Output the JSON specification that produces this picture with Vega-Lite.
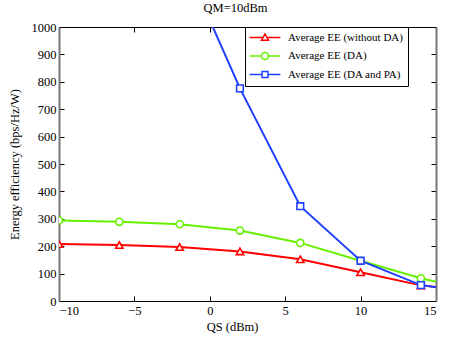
{
  "$schema": "https://vega.github.io/schema/vega-lite/v6.json",
  "autosize": {"type": "none"},
  "width": 377,
  "height": 274,
  "padding": {"left": 59, "top": 27, "right": 16, "bottom": 39},
  "background": "white",
  "title": {"text": "QM=10dBm", "font": "Liberation Serif", "fontSize": 12.5, "fontWeight": "normal", "color": "black", "offset": 7, "dx": -12},
  "config": {
    "view": {"stroke": null},
    "axis": {
      "labelFont": "Liberation Serif", "labelFontSize": 12.5, "labelColor": "black",
      "titleFont": "Liberation Serif", "titleFontSize": 12.5, "titleFontWeight": "normal", "titleColor": "black",
      "grid": false, "domainColor": "black", "tickColor": "black", "tickSize": -5, "labelPadding": 8
    },
    "legend": {"title": null, "orient": "none", "legendX": 186, "legendY": 0, "strokeColor": "black", "fillColor": "white", "padding": 5,
               "labelFont": "Liberation Serif", "labelFontSize": 11, "labelColor": "black", "symbolSize": 49, "symbolOffset": 9.5, "labelOffset": 17.5, "rowPadding": 5.5, "cornerRadius": 0}
  },
  "data": {"values": [
    {"series": "Average EE (without DA)", "x": -10, "y": 208},
    {"series": "Average EE (without DA)", "x": -6, "y": 204},
    {"series": "Average EE (without DA)", "x": -2, "y": 197},
    {"series": "Average EE (without DA)", "x": 2, "y": 181},
    {"series": "Average EE (without DA)", "x": 6, "y": 152},
    {"series": "Average EE (without DA)", "x": 10, "y": 105},
    {"series": "Average EE (without DA)", "x": 14, "y": 57},
    {"series": "Average EE (without DA)", "x": 15, "y": 51},
    {"series": "Average EE (DA)", "x": -10, "y": 294},
    {"series": "Average EE (DA)", "x": -6, "y": 289},
    {"series": "Average EE (DA)", "x": -2, "y": 280},
    {"series": "Average EE (DA)", "x": 2, "y": 257},
    {"series": "Average EE (DA)", "x": 6, "y": 212},
    {"series": "Average EE (DA)", "x": 10, "y": 147},
    {"series": "Average EE (DA)", "x": 14, "y": 83},
    {"series": "Average EE (DA)", "x": 15, "y": 70},
    {"series": "Average EE (DA and PA)", "x": -2, "y": 1274},
    {"series": "Average EE (DA and PA)", "x": 2, "y": 776},
    {"series": "Average EE (DA and PA)", "x": 6, "y": 346},
    {"series": "Average EE (DA and PA)", "x": 10, "y": 147},
    {"series": "Average EE (DA and PA)", "x": 14, "y": 58},
    {"series": "Average EE (DA and PA)", "x": 15, "y": 50}
  ]},
  "resolve": {"axis": {"x": "independent", "y": "independent"}},
  "layer": [
    {
      "mark": {"type": "point", "filled": false, "opacity": 0, "clip": true},
      "encoding": {
        "x": {"field": "x", "type": "quantitative", "scale": {"domain": [-10, 15], "nice": false, "zero": false},
              "axis": {"orient": "top", "values": [-10, -5, 0, 5, 10, 15], "labels": false, "title": null}},
        "y": {"field": "y", "type": "quantitative", "scale": {"domain": [0, 1000], "nice": false},
              "axis": {"orient": "right", "values": [0,100,200,300,400,500,600,700,800,900,1000], "labels": false, "title": null, "domainColor": "#777", "domainWidth": 2}},
        "color": {"field": "series", "type": "nominal",
                  "scale": {"domain": ["Average EE (without DA)", "Average EE (DA)", "Average EE (DA and PA)"], "range": ["#ff0000", "#66f000", "#2040ff"]},
                  "legend": {"encode": {"symbols": {"update": {"opacity": {"value": 1}, "fill": {"value": "white"}, "strokeWidth": {"value": 2}}}}}},
        "shape": {"field": "series", "type": "nominal",
                  "scale": {"domain": ["Average EE (without DA)", "Average EE (DA)", "Average EE (DA and PA)"],
                            "range": ["M-4.4,0H-0.57M0.57,0H4.4M0,-1L1,0.75L-1,0.75Z", "M-4.4,0H-1M1,0H4.4M1,0A1,1 0 1,1 -1,0A1,1 0 1,1 1,0Z", "M-4.4,0H-0.85M0.85,0H4.4M-0.85,-0.85H0.85V0.85H-0.85Z"]},
                  "legend": {"encode": {"symbols": {"update": {"opacity": {"value": 1}, "fill": {"value": "white"}, "strokeWidth": {"value": 2}}}}}}
      }
    },
    {
      "mark": {"type": "line", "strokeWidth": 2, "clip": true},
      "encoding": {
        "x": {"field": "x", "type": "quantitative",
              "axis": {"values": [-10, -5, 0, 5, 10, 15], "title": "QS (dBm)", "titleX": 173, "titlePadding": 4}},
        "y": {"field": "y", "type": "quantitative",
              "axis": {"values": [0,100,200,300,400,500,600,700,800,900,1000], "format": "d", "title": "Energy efficiency (bps/Hz/W)", "titlePadding": 10, "domainColor": "#777", "domainWidth": 2}},
        "color": {"field": "series", "type": "nominal"},
        "detail": {"field": "series"},
        "order": {"field": "x", "type": "quantitative"}
      }
    },
    {
      "transform": [{"filter": "datum.x != 15 && datum.series == 'Average EE (without DA)'"}],
      "mark": {"type": "point", "shape": "triangle-up", "filled": false, "fill": "white", "fillOpacity": 1, "strokeWidth": 1.6, "size": 55, "clip": true},
      "encoding": {
        "x": {"field": "x", "type": "quantitative", "axis": null},
        "y": {"field": "y", "type": "quantitative", "axis": null},
        "color": {"field": "series", "type": "nominal"}
      }
    },
    {
      "transform": [{"filter": "datum.x != 15 && datum.series == 'Average EE (DA)'"}],
      "mark": {"type": "point", "shape": "circle", "filled": false, "fill": "white", "fillOpacity": 1, "strokeWidth": 1.6, "size": 50, "clip": true},
      "encoding": {
        "x": {"field": "x", "type": "quantitative", "axis": null},
        "y": {"field": "y", "type": "quantitative", "axis": null},
        "color": {"field": "series", "type": "nominal"}
      }
    },
    {
      "transform": [{"filter": "datum.x != 15 && datum.series == 'Average EE (DA and PA)'"}],
      "mark": {"type": "point", "shape": "square", "filled": false, "fill": "white", "fillOpacity": 1, "strokeWidth": 1.6, "size": 45, "clip": true},
      "encoding": {
        "x": {"field": "x", "type": "quantitative", "axis": null},
        "y": {"field": "y", "type": "quantitative", "axis": null},
        "color": {"field": "series", "type": "nominal"}
      }
    }
  ]
}
